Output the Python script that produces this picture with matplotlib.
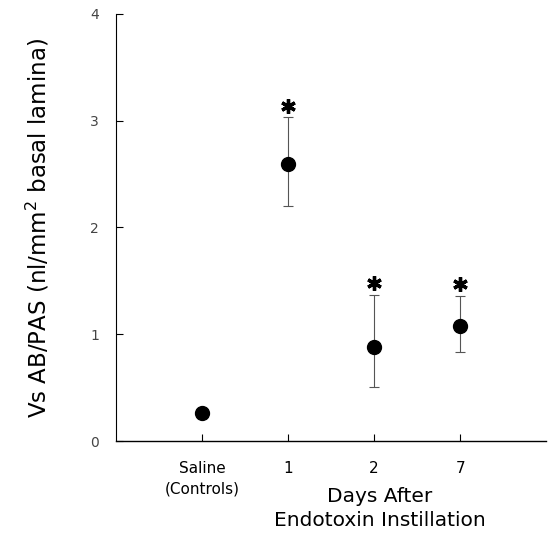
import matplotlib
matplotlib.use("Agg")
import matplotlib.pyplot as plt

categories = ["Saline\n(Controls)", "1", "2", "7"]
means = [0.26, 2.59, 0.88, 1.08]
err_low = [0.04, 0.39, 0.37, 0.25]
err_high = [0.04, 0.44, 0.49, 0.28]
significant = [False, True, True, True]
y_ticks = [0, 1, 2, 3, 4]

plt.rcParams['font.family'] = ['DejaVu Sans']
fig = plt.figure(figsize=(5.49, 5.34), dpi=100)
ax = fig.add_axes([0.211, 0.174, 0.784, 0.800])

xs = list(range(1, len(categories) + 1))
ax.errorbar(xs, means, yerr=[err_low, err_high], fmt='o', color='black',
            ecolor='#555555', elinewidth=0.8, capsize=3.5, capthick=0.8,
            markersize=10)
sx = [x for x, s in zip(xs, significant) if s]
sy = [m + eh + 0.11 for m, eh, s in zip(means, err_high, significant) if s]
ax.plot(sx, sy, linestyle='none', marker=(6, 2, 0), markersize=10.5,
        markeredgewidth=2.4, color='black')

ax.set_xlim(0, 5)
ax.set_ylim(0, 4)
ax.set_xticks(xs)
ax.set_xticklabels(categories, fontsize=11, linespacing=1.5)
ax.set_yticks(y_ticks)
ax.set_yticklabels([str(t) for t in y_ticks], fontsize=10, color='#444444')
ax.tick_params(axis='both', direction='in', length=5, width=0.8)
ax.tick_params(axis='x', pad=14)
ax.tick_params(axis='y', pad=12)
for side in ['top', 'right']:
    ax.spines[side].set_visible(False)
ax.spines['left'].set_linewidth(0.8)
ax.spines['bottom'].set_linewidth(1.0)

ax.set_ylabel('Vs AB/PAS (nl/mm$^2$ basal lamina)', fontsize=16.5, labelpad=28)
fig.text(0.692, 0.048, 'Days After\nEndotoxin Instillation', ha='center',
         va='center', fontsize=14.5, linespacing=1.3)

fig.savefig('out.png', dpi=100)
